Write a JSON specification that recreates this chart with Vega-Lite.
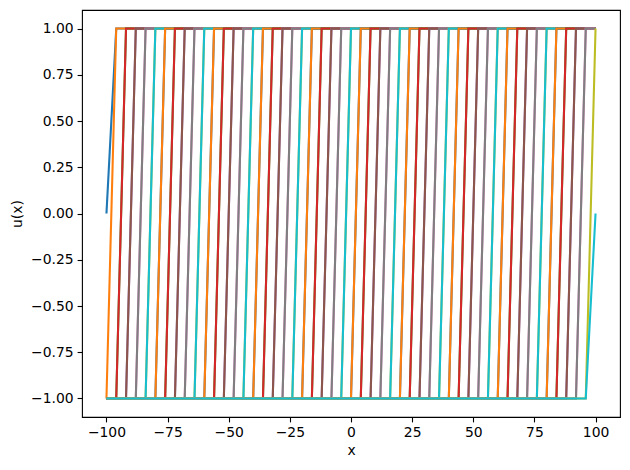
{
  "$schema": "https://vega.github.io/schema/vega-lite/v6.json",
  "autosize": "none",
  "width": 538,
  "height": 407,
  "padding": {"left": 82, "top": 10, "right": 10, "bottom": 53},
  "background": "white",
  "config": {
    "view": {"stroke": "black", "strokeWidth": 1.1},
    "axis": {
      "grid": false,
      "domain": false,
      "tickColor": "black",
      "tickSize": 4.9,
      "tickWidth": 1.1,
      "labelFont": "DejaVu Sans",
      "labelFontSize": 13.9,
      "labelColor": "black",
      "labelPadding": 4,
      "titleFont": "DejaVu Sans",
      "titleFontSize": 13.9,
      "titleFontWeight": "normal",
      "titleColor": "black"
    }
  },
  "data": {
    "values": [
      {"s":0,"x":-100,"u":0},{"s":0,"x":-96,"u":1},{"s":0,"x":100,"u":1},
      {"s":1,"x":-100,"u":-1},{"s":1,"x":-96,"u":1},{"s":1,"x":100,"u":1},
      {"s":2,"x":-100,"u":-1},{"s":2,"x":-96,"u":-1},{"s":2,"x":-92,"u":1},{"s":2,"x":100,"u":1},
      {"s":3,"x":-100,"u":-1},{"s":3,"x":-96,"u":-1},{"s":3,"x":-92,"u":1},{"s":3,"x":100,"u":1},
      {"s":4,"x":-100,"u":-1},{"s":4,"x":-92,"u":-1},{"s":4,"x":-88,"u":1},{"s":4,"x":100,"u":1},
      {"s":5,"x":-100,"u":-1},{"s":5,"x":-92,"u":-1},{"s":5,"x":-88,"u":1},{"s":5,"x":100,"u":1},
      {"s":6,"x":-100,"u":-1},{"s":6,"x":-88,"u":-1},{"s":6,"x":-84,"u":1},{"s":6,"x":100,"u":1},
      {"s":7,"x":-100,"u":-1},{"s":7,"x":-88,"u":-1},{"s":7,"x":-84,"u":1},{"s":7,"x":100,"u":1},
      {"s":8,"x":-100,"u":-1},{"s":8,"x":-84,"u":-1},{"s":8,"x":-80,"u":1},{"s":8,"x":100,"u":1},
      {"s":9,"x":-100,"u":-1},{"s":9,"x":-84,"u":-1},{"s":9,"x":-80,"u":1},{"s":9,"x":100,"u":1},
      {"s":10,"x":-100,"u":-1},{"s":10,"x":-80,"u":-1},{"s":10,"x":-76,"u":1},{"s":10,"x":100,"u":1},
      {"s":11,"x":-100,"u":-1},{"s":11,"x":-80,"u":-1},{"s":11,"x":-76,"u":1},{"s":11,"x":100,"u":1},
      {"s":12,"x":-100,"u":-1},{"s":12,"x":-76,"u":-1},{"s":12,"x":-72,"u":1},{"s":12,"x":100,"u":1},
      {"s":13,"x":-100,"u":-1},{"s":13,"x":-76,"u":-1},{"s":13,"x":-72,"u":1},{"s":13,"x":100,"u":1},
      {"s":14,"x":-100,"u":-1},{"s":14,"x":-72,"u":-1},{"s":14,"x":-68,"u":1},{"s":14,"x":100,"u":1},
      {"s":15,"x":-100,"u":-1},{"s":15,"x":-72,"u":-1},{"s":15,"x":-68,"u":1},{"s":15,"x":100,"u":1},
      {"s":16,"x":-100,"u":-1},{"s":16,"x":-68,"u":-1},{"s":16,"x":-64,"u":1},{"s":16,"x":100,"u":1},
      {"s":17,"x":-100,"u":-1},{"s":17,"x":-68,"u":-1},{"s":17,"x":-64,"u":1},{"s":17,"x":100,"u":1},
      {"s":18,"x":-100,"u":-1},{"s":18,"x":-64,"u":-1},{"s":18,"x":-60,"u":1},{"s":18,"x":100,"u":1},
      {"s":19,"x":-100,"u":-1},{"s":19,"x":-64,"u":-1},{"s":19,"x":-60,"u":1},{"s":19,"x":100,"u":1},
      {"s":20,"x":-100,"u":-1},{"s":20,"x":-60,"u":-1},{"s":20,"x":-56,"u":1},{"s":20,"x":100,"u":1},
      {"s":21,"x":-100,"u":-1},{"s":21,"x":-60,"u":-1},{"s":21,"x":-56,"u":1},{"s":21,"x":100,"u":1},
      {"s":22,"x":-100,"u":-1},{"s":22,"x":-56,"u":-1},{"s":22,"x":-52,"u":1},{"s":22,"x":100,"u":1},
      {"s":23,"x":-100,"u":-1},{"s":23,"x":-56,"u":-1},{"s":23,"x":-52,"u":1},{"s":23,"x":100,"u":1},
      {"s":24,"x":-100,"u":-1},{"s":24,"x":-52,"u":-1},{"s":24,"x":-48,"u":1},{"s":24,"x":100,"u":1},
      {"s":25,"x":-100,"u":-1},{"s":25,"x":-52,"u":-1},{"s":25,"x":-48,"u":1},{"s":25,"x":100,"u":1},
      {"s":26,"x":-100,"u":-1},{"s":26,"x":-48,"u":-1},{"s":26,"x":-44,"u":1},{"s":26,"x":100,"u":1},
      {"s":27,"x":-100,"u":-1},{"s":27,"x":-48,"u":-1},{"s":27,"x":-44,"u":1},{"s":27,"x":100,"u":1},
      {"s":28,"x":-100,"u":-1},{"s":28,"x":-44,"u":-1},{"s":28,"x":-40,"u":1},{"s":28,"x":100,"u":1},
      {"s":29,"x":-100,"u":-1},{"s":29,"x":-44,"u":-1},{"s":29,"x":-40,"u":1},{"s":29,"x":100,"u":1},
      {"s":30,"x":-100,"u":-1},{"s":30,"x":-40,"u":-1},{"s":30,"x":-36,"u":1},{"s":30,"x":100,"u":1},
      {"s":31,"x":-100,"u":-1},{"s":31,"x":-40,"u":-1},{"s":31,"x":-36,"u":1},{"s":31,"x":100,"u":1},
      {"s":32,"x":-100,"u":-1},{"s":32,"x":-36,"u":-1},{"s":32,"x":-32,"u":1},{"s":32,"x":100,"u":1},
      {"s":33,"x":-100,"u":-1},{"s":33,"x":-36,"u":-1},{"s":33,"x":-32,"u":1},{"s":33,"x":100,"u":1},
      {"s":34,"x":-100,"u":-1},{"s":34,"x":-32,"u":-1},{"s":34,"x":-28,"u":1},{"s":34,"x":100,"u":1},
      {"s":35,"x":-100,"u":-1},{"s":35,"x":-32,"u":-1},{"s":35,"x":-28,"u":1},{"s":35,"x":100,"u":1},
      {"s":36,"x":-100,"u":-1},{"s":36,"x":-28,"u":-1},{"s":36,"x":-24,"u":1},{"s":36,"x":100,"u":1},
      {"s":37,"x":-100,"u":-1},{"s":37,"x":-28,"u":-1},{"s":37,"x":-24,"u":1},{"s":37,"x":100,"u":1},
      {"s":38,"x":-100,"u":-1},{"s":38,"x":-24,"u":-1},{"s":38,"x":-20,"u":1},{"s":38,"x":100,"u":1},
      {"s":39,"x":-100,"u":-1},{"s":39,"x":-24,"u":-1},{"s":39,"x":-20,"u":1},{"s":39,"x":100,"u":1},
      {"s":40,"x":-100,"u":-1},{"s":40,"x":-20,"u":-1},{"s":40,"x":-16,"u":1},{"s":40,"x":100,"u":1},
      {"s":41,"x":-100,"u":-1},{"s":41,"x":-20,"u":-1},{"s":41,"x":-16,"u":1},{"s":41,"x":100,"u":1},
      {"s":42,"x":-100,"u":-1},{"s":42,"x":-16,"u":-1},{"s":42,"x":-12,"u":1},{"s":42,"x":100,"u":1},
      {"s":43,"x":-100,"u":-1},{"s":43,"x":-16,"u":-1},{"s":43,"x":-12,"u":1},{"s":43,"x":100,"u":1},
      {"s":44,"x":-100,"u":-1},{"s":44,"x":-12,"u":-1},{"s":44,"x":-8,"u":1},{"s":44,"x":100,"u":1},
      {"s":45,"x":-100,"u":-1},{"s":45,"x":-12,"u":-1},{"s":45,"x":-8,"u":1},{"s":45,"x":100,"u":1},
      {"s":46,"x":-100,"u":-1},{"s":46,"x":-8,"u":-1},{"s":46,"x":-4,"u":1},{"s":46,"x":100,"u":1},
      {"s":47,"x":-100,"u":-1},{"s":47,"x":-8,"u":-1},{"s":47,"x":-4,"u":1},{"s":47,"x":100,"u":1},
      {"s":48,"x":-100,"u":-1},{"s":48,"x":-4,"u":-1},{"s":48,"x":0,"u":1},{"s":48,"x":100,"u":1},
      {"s":49,"x":-100,"u":-1},{"s":49,"x":-4,"u":-1},{"s":49,"x":0,"u":1},{"s":49,"x":100,"u":1},
      {"s":50,"x":-100,"u":-1},{"s":50,"x":0,"u":-1},{"s":50,"x":4,"u":1},{"s":50,"x":100,"u":1},
      {"s":51,"x":-100,"u":-1},{"s":51,"x":0,"u":-1},{"s":51,"x":4,"u":1},{"s":51,"x":100,"u":1},
      {"s":52,"x":-100,"u":-1},{"s":52,"x":4,"u":-1},{"s":52,"x":8,"u":1},{"s":52,"x":100,"u":1},
      {"s":53,"x":-100,"u":-1},{"s":53,"x":4,"u":-1},{"s":53,"x":8,"u":1},{"s":53,"x":100,"u":1},
      {"s":54,"x":-100,"u":-1},{"s":54,"x":8,"u":-1},{"s":54,"x":12,"u":1},{"s":54,"x":100,"u":1},
      {"s":55,"x":-100,"u":-1},{"s":55,"x":8,"u":-1},{"s":55,"x":12,"u":1},{"s":55,"x":100,"u":1},
      {"s":56,"x":-100,"u":-1},{"s":56,"x":12,"u":-1},{"s":56,"x":16,"u":1},{"s":56,"x":100,"u":1},
      {"s":57,"x":-100,"u":-1},{"s":57,"x":12,"u":-1},{"s":57,"x":16,"u":1},{"s":57,"x":100,"u":1},
      {"s":58,"x":-100,"u":-1},{"s":58,"x":16,"u":-1},{"s":58,"x":20,"u":1},{"s":58,"x":100,"u":1},
      {"s":59,"x":-100,"u":-1},{"s":59,"x":16,"u":-1},{"s":59,"x":20,"u":1},{"s":59,"x":100,"u":1},
      {"s":60,"x":-100,"u":-1},{"s":60,"x":20,"u":-1},{"s":60,"x":24,"u":1},{"s":60,"x":100,"u":1},
      {"s":61,"x":-100,"u":-1},{"s":61,"x":20,"u":-1},{"s":61,"x":24,"u":1},{"s":61,"x":100,"u":1},
      {"s":62,"x":-100,"u":-1},{"s":62,"x":24,"u":-1},{"s":62,"x":28,"u":1},{"s":62,"x":100,"u":1},
      {"s":63,"x":-100,"u":-1},{"s":63,"x":24,"u":-1},{"s":63,"x":28,"u":1},{"s":63,"x":100,"u":1},
      {"s":64,"x":-100,"u":-1},{"s":64,"x":28,"u":-1},{"s":64,"x":32,"u":1},{"s":64,"x":100,"u":1},
      {"s":65,"x":-100,"u":-1},{"s":65,"x":28,"u":-1},{"s":65,"x":32,"u":1},{"s":65,"x":100,"u":1},
      {"s":66,"x":-100,"u":-1},{"s":66,"x":32,"u":-1},{"s":66,"x":36,"u":1},{"s":66,"x":100,"u":1},
      {"s":67,"x":-100,"u":-1},{"s":67,"x":32,"u":-1},{"s":67,"x":36,"u":1},{"s":67,"x":100,"u":1},
      {"s":68,"x":-100,"u":-1},{"s":68,"x":36,"u":-1},{"s":68,"x":40,"u":1},{"s":68,"x":100,"u":1},
      {"s":69,"x":-100,"u":-1},{"s":69,"x":36,"u":-1},{"s":69,"x":40,"u":1},{"s":69,"x":100,"u":1},
      {"s":70,"x":-100,"u":-1},{"s":70,"x":40,"u":-1},{"s":70,"x":44,"u":1},{"s":70,"x":100,"u":1},
      {"s":71,"x":-100,"u":-1},{"s":71,"x":40,"u":-1},{"s":71,"x":44,"u":1},{"s":71,"x":100,"u":1},
      {"s":72,"x":-100,"u":-1},{"s":72,"x":44,"u":-1},{"s":72,"x":48,"u":1},{"s":72,"x":100,"u":1},
      {"s":73,"x":-100,"u":-1},{"s":73,"x":44,"u":-1},{"s":73,"x":48,"u":1},{"s":73,"x":100,"u":1},
      {"s":74,"x":-100,"u":-1},{"s":74,"x":48,"u":-1},{"s":74,"x":52,"u":1},{"s":74,"x":100,"u":1},
      {"s":75,"x":-100,"u":-1},{"s":75,"x":48,"u":-1},{"s":75,"x":52,"u":1},{"s":75,"x":100,"u":1},
      {"s":76,"x":-100,"u":-1},{"s":76,"x":52,"u":-1},{"s":76,"x":56,"u":1},{"s":76,"x":100,"u":1},
      {"s":77,"x":-100,"u":-1},{"s":77,"x":52,"u":-1},{"s":77,"x":56,"u":1},{"s":77,"x":100,"u":1},
      {"s":78,"x":-100,"u":-1},{"s":78,"x":56,"u":-1},{"s":78,"x":60,"u":1},{"s":78,"x":100,"u":1},
      {"s":79,"x":-100,"u":-1},{"s":79,"x":56,"u":-1},{"s":79,"x":60,"u":1},{"s":79,"x":100,"u":1},
      {"s":80,"x":-100,"u":-1},{"s":80,"x":60,"u":-1},{"s":80,"x":64,"u":1},{"s":80,"x":100,"u":1},
      {"s":81,"x":-100,"u":-1},{"s":81,"x":60,"u":-1},{"s":81,"x":64,"u":1},{"s":81,"x":100,"u":1},
      {"s":82,"x":-100,"u":-1},{"s":82,"x":64,"u":-1},{"s":82,"x":68,"u":1},{"s":82,"x":100,"u":1},
      {"s":83,"x":-100,"u":-1},{"s":83,"x":64,"u":-1},{"s":83,"x":68,"u":1},{"s":83,"x":100,"u":1},
      {"s":84,"x":-100,"u":-1},{"s":84,"x":68,"u":-1},{"s":84,"x":72,"u":1},{"s":84,"x":100,"u":1},
      {"s":85,"x":-100,"u":-1},{"s":85,"x":68,"u":-1},{"s":85,"x":72,"u":1},{"s":85,"x":100,"u":1},
      {"s":86,"x":-100,"u":-1},{"s":86,"x":72,"u":-1},{"s":86,"x":76,"u":1},{"s":86,"x":100,"u":1},
      {"s":87,"x":-100,"u":-1},{"s":87,"x":72,"u":-1},{"s":87,"x":76,"u":1},{"s":87,"x":100,"u":1},
      {"s":88,"x":-100,"u":-1},{"s":88,"x":76,"u":-1},{"s":88,"x":80,"u":1},{"s":88,"x":100,"u":1},
      {"s":89,"x":-100,"u":-1},{"s":89,"x":76,"u":-1},{"s":89,"x":80,"u":1},{"s":89,"x":100,"u":1},
      {"s":90,"x":-100,"u":-1},{"s":90,"x":80,"u":-1},{"s":90,"x":84,"u":1},{"s":90,"x":100,"u":1},
      {"s":91,"x":-100,"u":-1},{"s":91,"x":80,"u":-1},{"s":91,"x":84,"u":1},{"s":91,"x":100,"u":1},
      {"s":92,"x":-100,"u":-1},{"s":92,"x":84,"u":-1},{"s":92,"x":88,"u":1},{"s":92,"x":100,"u":1},
      {"s":93,"x":-100,"u":-1},{"s":93,"x":84,"u":-1},{"s":93,"x":88,"u":1},{"s":93,"x":100,"u":1},
      {"s":94,"x":-100,"u":-1},{"s":94,"x":88,"u":-1},{"s":94,"x":92,"u":1},{"s":94,"x":100,"u":1},
      {"s":95,"x":-100,"u":-1},{"s":95,"x":88,"u":-1},{"s":95,"x":92,"u":1},{"s":95,"x":100,"u":1},
      {"s":96,"x":-100,"u":-1},{"s":96,"x":92,"u":-1},{"s":96,"x":96,"u":1},{"s":96,"x":100,"u":1},
      {"s":97,"x":-100,"u":-1},{"s":97,"x":92,"u":-1},{"s":97,"x":96,"u":1},{"s":97,"x":100,"u":1},
      {"s":98,"x":-100,"u":-1},{"s":98,"x":96,"u":-1},{"s":98,"x":100,"u":1},
      {"s":99,"x":-100,"u":-1},{"s":99,"x":96,"u":-1},{"s":99,"x":100,"u":0}
    ]
  },
  "mark": {"type": "line", "strokeWidth": 2.08, "clip": true},
  "encoding": {
    "x": {
      "field": "x", "type": "quantitative", "title": "x",
      "scale": {"domain": [-110, 110], "nice": false, "zero": false},
      "axis": {
        "values": [-100, -75, -50, -25, 0, 25, 50, 75, 100],
        "labelExpr": "replace(format(datum.value, 'd'), '-', '−')",
        "titlePadding": 4
      }
    },
    "y": {
      "field": "u", "type": "quantitative", "title": "u(x)",
      "scale": {"domain": [-1.1, 1.1], "nice": false, "zero": false},
      "axis": {
        "values": [-1, -0.75, -0.5, -0.25, 0, 0.25, 0.5, 0.75, 1],
        "labelExpr": "replace(format(datum.value, '.2f'), '-', '−')",
        "titlePadding": 6
      }
    },
    "color": {
      "field": "s", "type": "nominal", "legend": null,
      "scale": {"range": ["#1f77b4", "#ff7f0e", "#2ca02c", "#d62728", "#9467bd", "#8c564b", "#e377c2", "#7f7f7f", "#bcbd22", "#17becf"]}
    }
  }
}
